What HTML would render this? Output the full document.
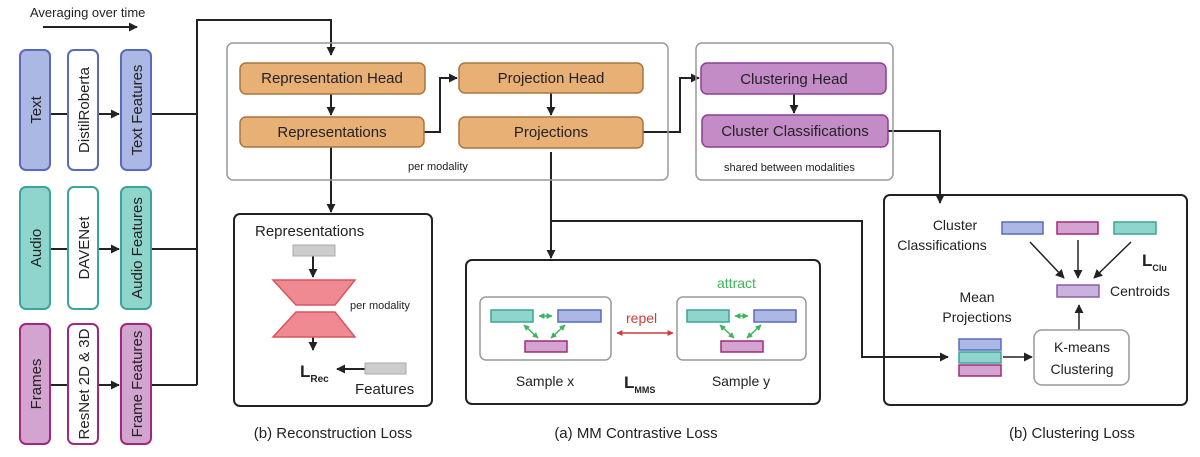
<!DOCTYPE html>
<html><head><meta charset="utf-8"><style>
body{margin:0;background:#fff}
svg text{font-family:"Liberation Sans",sans-serif;fill:#222}
</style></head><body>
<svg width="1200" height="452" viewBox="0 0 1200 452" xmlns="http://www.w3.org/2000/svg">
<defs>
<marker id="a" viewBox="0 0 10 10" refX="9" refY="5" markerUnits="userSpaceOnUse" markerWidth="9" markerHeight="9" orient="auto-start-reverse"><path d="M0,0 L10,5 L0,10 z" fill="#222"/></marker>
<marker id="g" viewBox="0 0 10 10" refX="9" refY="5" markerUnits="userSpaceOnUse" markerWidth="6" markerHeight="6" orient="auto-start-reverse"><path d="M0,0 L10,5 L0,10 z" fill="#3cb55a"/></marker>
<marker id="r" viewBox="0 0 10 10" refX="9" refY="5" markerUnits="userSpaceOnUse" markerWidth="6" markerHeight="6" orient="auto-start-reverse"><path d="M0,0 L10,5 L0,10 z" fill="#d23a3a"/></marker>
</defs>
<g stroke="#222" stroke-width="2" fill="none">
<line x1="43" y1="27" x2="137" y2="27" marker-end="url(#a)"/>
<line x1="50" y1="114" x2="68" y2="114"/><line x1="98" y1="114" x2="119" y2="114" marker-end="url(#a)"/>
<line x1="50" y1="249" x2="68" y2="249"/><line x1="98" y1="249" x2="119" y2="249" marker-end="url(#a)"/>
<line x1="50" y1="385" x2="68" y2="385"/><line x1="98" y1="385" x2="119" y2="385" marker-end="url(#a)"/>
<path d="M151,114 H197 M151,249 H197 M151,385 H197 M197,385 V20 H331 V55" marker-end="url(#a)"/>
<line x1="331" y1="94" x2="331" y2="115" marker-end="url(#a)"/>
<path d="M424,132 H440 V78 H457" marker-end="url(#a)"/>
<line x1="551" y1="93" x2="551" y2="115" marker-end="url(#a)"/>
<path d="M643,132 H680 V78 H699" marker-end="url(#a)"/>
<line x1="794" y1="94" x2="794" y2="113" marker-end="url(#a)"/>
<path d="M888,131 H940 V203" marker-end="url(#a)"/>
<line x1="331" y1="147" x2="331" y2="212" marker-end="url(#a)"/>
<path d="M551,152 V258" marker-end="url(#a)"/>
<path d="M551,221 H862 V357 H948" marker-end="url(#a)"/>
<line x1="313" y1="256" x2="313" y2="277" marker-end="url(#a)"/>
<line x1="313" y1="337" x2="313" y2="350" marker-end="url(#a)"/>
<line x1="365" y1="369" x2="337" y2="369" marker-end="url(#a)"/>
<line x1="1030" y1="242" x2="1064" y2="278" stroke-width="1.5" marker-end="url(#a)"/>
<line x1="1078" y1="240" x2="1078" y2="278" stroke-width="1.5" marker-end="url(#a)"/>
<line x1="1131" y1="242" x2="1094" y2="278" stroke-width="1.5" marker-end="url(#a)"/>
<line x1="1003" y1="357" x2="1032" y2="357" stroke-width="1.5" marker-end="url(#a)"/>
<line x1="1079" y1="330" x2="1079" y2="305" stroke-width="1.5" marker-end="url(#a)"/>
</g>
<text x="30" y="17" font-size="13">Averaging over time</text>
<g stroke-width="2">
<rect x="20" y="50" width="30" height="120" rx="6" fill="#aab8e3" stroke="#5a6bbd"/>
<rect x="68" y="50" width="30" height="120" rx="6" fill="#fff" stroke="#5a6bbd"/>
<rect x="121" y="50" width="30" height="120" rx="6" fill="#aab8e3" stroke="#5a6bbd"/>
<rect x="20" y="187" width="30" height="122" rx="6" fill="#8fd5cc" stroke="#3aa59a"/>
<rect x="68" y="187" width="30" height="122" rx="6" fill="#fff" stroke="#3aa59a"/>
<rect x="121" y="187" width="30" height="122" rx="6" fill="#8fd5cc" stroke="#3aa59a"/>
<rect x="20" y="324" width="30" height="120" rx="6" fill="#d3a4d0" stroke="#a4287f"/>
<rect x="68" y="324" width="30" height="120" rx="6" fill="#fff" stroke="#a4287f"/>
<rect x="121" y="324" width="30" height="120" rx="6" fill="#d3a4d0" stroke="#a4287f"/>
</g>
<g font-size="15" text-anchor="middle">
<text transform="translate(41,110) rotate(-90)">Text</text>
<text transform="translate(89,110) rotate(-90)">DistilRoberta</text>
<text transform="translate(142,110) rotate(-90)">Text Features</text>
<text transform="translate(41,248) rotate(-90)">Audio</text>
<text transform="translate(89,248) rotate(-90)">DAVENet</text>
<text transform="translate(142,248) rotate(-90)">Audio Features</text>
<text transform="translate(41,384) rotate(-90)">Frames</text>
<text transform="translate(89,384) rotate(-90)">ResNet 2D &amp; 3D</text>
<text transform="translate(142,384) rotate(-90)">Frame Features</text>
</g>
<rect x="227" y="43" width="441" height="137" rx="6" fill="none" stroke="#999" stroke-width="1.5"/>
<rect x="696" y="43" width="197" height="137" rx="6" fill="none" stroke="#999" stroke-width="1.5"/>
<g stroke-width="1.5">
<rect x="240" y="63" width="185" height="31" rx="6" fill="#e8b074" stroke="#a8763e"/>
<rect x="240" y="117" width="184" height="30" rx="6" fill="#e8b074" stroke="#a8763e"/>
<rect x="459" y="63" width="184" height="30" rx="6" fill="#e8b074" stroke="#a8763e"/>
<rect x="459" y="117" width="184" height="31" rx="6" fill="#e8b074" stroke="#a8763e"/>
<rect x="701" y="63" width="185" height="31" rx="6" fill="#c48cc7" stroke="#8e3c97"/>
<rect x="702" y="115" width="186" height="32" rx="6" fill="#c48cc7" stroke="#8e3c97"/>
</g>
<g font-size="15" text-anchor="middle">
<text x="332" y="83">Representation Head</text>
<text x="332" y="137">Representations</text>
<text x="551" y="83">Projection Head</text>
<text x="551" y="137">Projections</text>
<text x="794" y="84">Clustering Head</text>
<text x="795" y="136">Cluster Classifications</text>
</g>
<text x="408" y="170" font-size="11">per modality</text>
<text x="724" y="171" font-size="11">shared between modalities</text>
<rect x="234" y="214" width="198" height="192" rx="6" fill="none" stroke="#222" stroke-width="2"/>
<text x="255" y="236" font-size="15">Representations</text>
<rect x="293" y="245" width="42" height="11" fill="#ccc" stroke="#aaa"/>
<polygon points="273,280 355,280 335,305 296,305" fill="#f08a92" stroke="#d8545e" stroke-width="1.5"/>
<polygon points="296,312 335,312 355,337 273,337" fill="#f08a92" stroke="#d8545e" stroke-width="1.5"/>
<text x="350" y="309" font-size="11">per modality</text>
<text x="300" y="377" font-size="17" font-weight="bold">L<tspan font-size="10" dy="5">Rec</tspan></text>
<rect x="365" y="363" width="41" height="11" fill="#ccc" stroke="#aaa"/>
<text x="355" y="394" font-size="15">Features</text>
<text x="333" y="438" font-size="15" text-anchor="middle">(b) Reconstruction Loss</text>
<rect x="466" y="260" width="354" height="144" rx="6" fill="none" stroke="#222" stroke-width="2"/>
<rect x="480" y="297" width="131" height="63" rx="6" fill="none" stroke="#999" stroke-width="1.5"/>
<rect x="677" y="297" width="129" height="63" rx="6" fill="none" stroke="#999" stroke-width="1.5"/>
<g stroke-width="1.5">
<rect x="491" y="310" width="42" height="12" fill="#8fd5cc" stroke="#3aa59a"/>
<rect x="558" y="310" width="43" height="12" fill="#aab8e3" stroke="#5a6bbd"/>
<rect x="525" y="341" width="42" height="11" fill="#d3a4d0" stroke="#a4287f"/>
<rect x="687" y="310" width="42" height="12" fill="#8fd5cc" stroke="#3aa59a"/>
<rect x="754" y="310" width="42" height="12" fill="#aab8e3" stroke="#5a6bbd"/>
<rect x="721" y="341" width="42" height="11" fill="#d3a4d0" stroke="#a4287f"/>
</g>
<g stroke="#3cb55a" stroke-width="1.5">
<line x1="539" y1="316" x2="552" y2="316" marker-start="url(#g)" marker-end="url(#g)"/>
<line x1="524" y1="325" x2="538" y2="338" marker-start="url(#g)" marker-end="url(#g)"/>
<line x1="565" y1="325" x2="551" y2="338" marker-start="url(#g)" marker-end="url(#g)"/>
<line x1="735" y1="316" x2="748" y2="316" marker-start="url(#g)" marker-end="url(#g)"/>
<line x1="720" y1="325" x2="734" y2="338" marker-start="url(#g)" marker-end="url(#g)"/>
<line x1="761" y1="325" x2="747" y2="338" marker-start="url(#g)" marker-end="url(#g)"/>
</g>
<line x1="617" y1="333" x2="673" y2="333" stroke="#d23a3a" stroke-width="1.5" marker-start="url(#r)" marker-end="url(#r)"/>
<text x="626" y="323" font-size="14" style="fill:#d23a3a">repel</text>
<text x="717" y="288" font-size="14" style="fill:#3cb55a">attract</text>
<text x="545" y="386" font-size="14" text-anchor="middle">Sample x</text>
<text x="741" y="386" font-size="14" text-anchor="middle">Sample y</text>
<text x="624" y="388" font-size="17" font-weight="bold">L<tspan font-size="9" dy="5">MMS</tspan></text>
<text x="636" y="438" font-size="15" text-anchor="middle">(a) MM Contrastive Loss</text>
<rect x="884" y="195" width="303" height="210" rx="6" fill="none" stroke="#222" stroke-width="2"/>
<text x="955" y="230" font-size="14" text-anchor="middle">Cluster</text>
<text x="942" y="250" font-size="14" text-anchor="middle">Classifications</text>
<g stroke-width="1.5">
<rect x="1002" y="222" width="41" height="12" fill="#aab8e3" stroke="#5a6bbd"/>
<rect x="1057" y="222" width="41" height="12" fill="#d3a4d0" stroke="#a4287f"/>
<rect x="1114" y="222" width="42" height="12" fill="#8fd5cc" stroke="#3aa59a"/>
<rect x="1057" y="285" width="42" height="12" fill="#c9b3de" stroke="#8e5ca5"/>
<rect x="959" y="339" width="42" height="11" fill="#aab8e3" stroke="#5a6bbd"/>
<rect x="959" y="352" width="42" height="11" fill="#8fd5cc" stroke="#3aa59a"/>
<rect x="959" y="365" width="42" height="11" fill="#d3a4d0" stroke="#a4287f"/>
</g>
<text x="1142" y="266" font-size="17" font-weight="bold">L<tspan font-size="9" dy="5">Clu</tspan></text>
<text x="1110" y="296" font-size="14">Centroids</text>
<text x="977" y="302" font-size="14" text-anchor="middle">Mean</text>
<text x="977" y="322" font-size="14" text-anchor="middle">Projections</text>
<rect x="1034" y="330" width="95" height="55" rx="8" fill="#fff" stroke="#999" stroke-width="1.5"/>
<text x="1082" y="352" font-size="14" text-anchor="middle">K-means</text>
<text x="1082" y="374" font-size="14" text-anchor="middle">Clustering</text>
<text x="1072" y="438" font-size="15" text-anchor="middle">(b) Clustering Loss</text>
</svg>
</body></html>
